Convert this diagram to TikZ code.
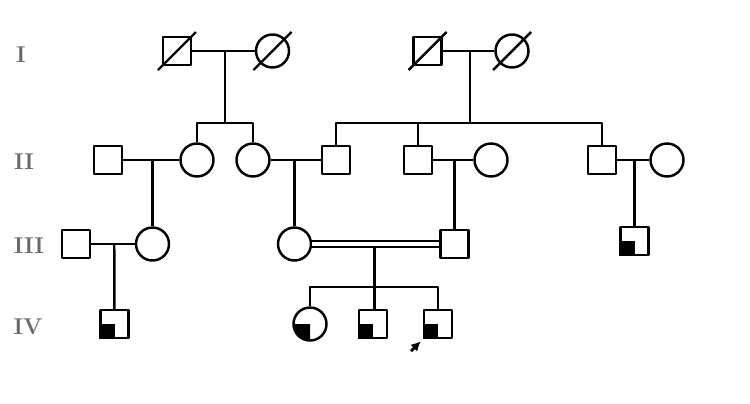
\documentclass[tikz,border=0pt]{standalone}
\usepackage{tikz}
\usetikzlibrary{arrows.meta,calc}
\definecolor{gengray}{RGB}{105,105,105}

\begin{document}
\begin{tikzpicture}[x=0.02cm,y=-0.02cm,line join=round,line width=1.4pt,
  male/.style={draw,fill=white,rectangle,minimum size=0.56cm,inner sep=0pt},
  female/.style={draw,fill=white,circle,minimum size=0.66cm,inner sep=0pt},
  gen/.style={font=\fontsize{13}{15}\selectfont\bfseries,text=gengray}]
\useasboundingbox (0,0) rectangle (750,403);
% generation labels
\node[gen] (gI) at (21,55) {I};
\node[gen] (gII) at (24,162) {II};
\node[gen] (gIII) at (29,246) {III};
\node[gen] (gIV) at (28,327) {IV};
% generation I
\node[male] (I1) at (177,51) {};
\node[female] (I2) at (272.5,51) {};
\node[male] (I3) at (427.5,51) {};
\node[female] (I4) at (512,51) {};
\foreach \p in {I1,I2,I3,I4}
  \draw ([shift={(-19,19)}]\p.center) -- ([shift={(19,-19)}]\p.center);
% generation II
\node[male] (II1) at (108,160) {};
\node[female] (II2) at (197,160) {};
\node[female] (II3) at (253,160) {};
\node[male] (II4) at (336,160) {};
\node[male] (II5) at (418,160) {};
\node[female] (II6) at (491,160) {};
\node[male] (II7) at (602,160) {};
\node[female] (II8) at (667,160) {};
% generation III
\node[male] (III1) at (76,244) {};
\node[female] (III2) at (152.5,244) {};
\node[female] (III3) at (294.5,244) {};
\node[male] (III4) at (454.5,244) {};
\node[male] (III5) at (634.5,241) {};
% generation IV
\node[male] (IV1) at (114.5,324) {};
\node[female] (IV2) at (310,324) {};
\node[male] (IV3) at (373,324) {};
\node[male] (IV4) at (438,324) {};
% affected quarters
\foreach \p in {III5,IV1,IV3,IV4}
  \fill (\p.center) rectangle (\p.south west);
\begin{scope}
\clip (IV2.center) rectangle ([shift={(-20,20)}]IV2.center);
\fill (IV2.center) circle[radius=0.33cm];
\end{scope}
% couples
\draw (I1) -- (I2);
\draw (I3) -- (I4);
\draw (II1) -- (II2);
\draw (II3) -- (II4);
\draw (II5) -- (II6);
\draw (II7) -- (II8);
\draw (III1) -- (III2);
\draw[double,double distance=2.4pt,line width=0.9pt] (III3) -- (III4);
\coordinate (m1) at ($(I1)!.5!(I2)$);
\coordinate (m2) at ($(I3)!.5!(I4)$);
\coordinate (m3) at ($(II1)!.5!(II2)$);
\coordinate (m4) at ($(II3)!.5!(II4)$);
\coordinate (m5) at ($(II5)!.5!(II6)$);
\coordinate (m6) at ($(II7)!.5!(II8)$);
\coordinate (m7) at ($(III3)!.5!(III4)$);
\coordinate (m8) at ($(III1)!.5!(III2)$);
% sibships
\coordinate (s1) at (m1 |- 0,123);
\coordinate (s2) at (m2 |- 0,123);
\coordinate (s4) at (m7 |- 0,287);
\draw (m1) -- (s1);
\draw (II2.north) |- (s1) -| (II3.north);
\draw (m2) -- (s2);
\draw (II4.north) |- (s2) -| (II7.north);
\draw (II5.north) -- (II5.north |- s2);
\draw (m3) -- (III2);
\draw (m4) -- (III3);
\draw (m5) -- (III4);
\draw (m6) -- (III5);
\draw (m8) -- (IV1);
\draw ([yshift=-2pt]m7) -- (s4) -- (s4 |- IV3.north);
\draw (IV2.north) |- (s4) -| (IV4.north);
% proband
\coordinate (pa) at (411,351);
\draw[-{Latex[length=5.5pt,width=5.5pt]},line width=1.6pt] (pa) -- ([shift={(-2,2)}]IV4.south west);
\end{tikzpicture}
\end{document}
